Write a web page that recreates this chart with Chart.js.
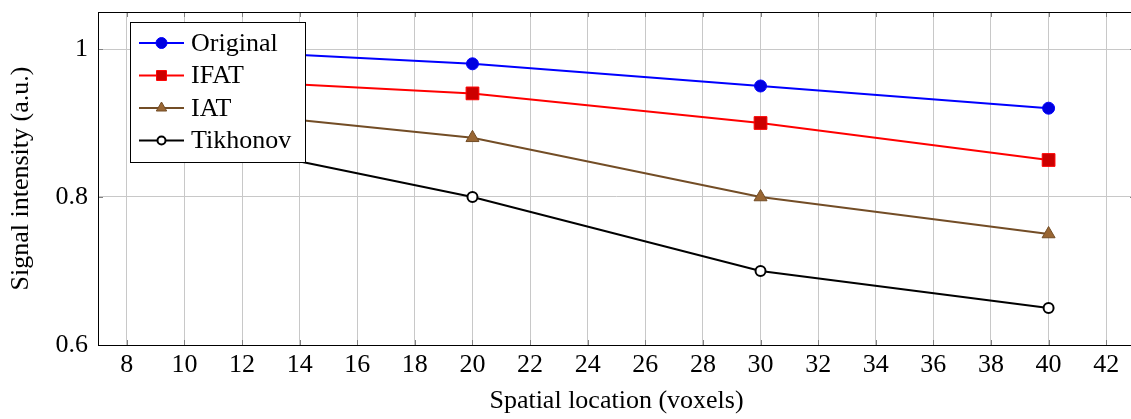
<!DOCTYPE html>
<html>
<head>
<meta charset="utf-8">
<script src="https://cdn.jsdelivr.net/npm/chart.js@4.4.1/dist/chart.umd.min.js"></script>
<style>
  html, body { margin: 0; padding: 0; background: #fff; overflow: hidden; }
  canvas { display: block; }
</style>
</head>
<body>
<canvas id="chart" width="1145" height="419"></canvas>
<script>
// Data
const xValues = [10, 20, 30, 40];
const original = [1.0, 0.98, 0.95, 0.92];
const ifat = [0.96, 0.94, 0.9, 0.85];
const iat = [0.92, 0.88, 0.8, 0.75];
const tikhonov = [0.88, 0.8, 0.7, 0.65];

const xTicks = [8, 10, 12, 14, 16, 18, 20, 22, 24, 26, 28, 30, 32, 34, 36, 38, 40, 42];
const yTicks = [0.6, 0.8, 1];
const yTickLabels = ["0.6", "0.8", "1"];

const FONT = "'Liberation Serif', 'Times New Roman', serif";
const FONT_SIZE = 26;

function toPoints(ys) {
  return xValues.map((x, i) => ({ x, y: ys[i] }));
}

function makeDataset(label, ys, line, fill, pointStyle, radius) {
  return {
    label,
    data: toPoints(ys),
    borderColor: line,
    backgroundColor: fill,
    borderWidth: 2,
    pointStyle,
    pointRadius: radius,
    pointHoverRadius: radius,
    pointBorderColor: line,
    pointBackgroundColor: fill,
    pointBorderWidth: pointStyle === "circle" && fill === "#ffffff" ? 2 : 1,
    tension: 0,
  };
}

// Legend drawn inside the plot, with a framed box
const boxLegend = {
  id: "boxLegend",
  afterDatasetsDraw(chart) {
    const { ctx } = chart;
    const left = 130.5, top = 22.5, w = 175, h = 140;
    ctx.save();
    ctx.fillStyle = "#fff";
    ctx.fillRect(left, top, w, h);
    ctx.strokeStyle = "#000";
    ctx.lineWidth = 1;
    ctx.strokeRect(left, top, w, h);
    const sizes = [5.5, 7, 6, 4];
    chart.data.datasets.forEach((ds, i) => {
      const y = top + 20.5 + i * 32.5;
      ctx.strokeStyle = ds.borderColor;
      ctx.lineWidth = 2;
      ctx.beginPath();
      ctx.moveTo(139, y);
      ctx.lineTo(184, y);
      ctx.stroke();
      ctx.fillStyle = ds.pointBackgroundColor;
      ctx.strokeStyle = ds.pointBorderColor;
      ctx.lineWidth = ds.pointBorderWidth;
      Chart.helpers.drawPoint(ctx, {
        pointStyle: ds.pointStyle,
        radius: sizes[i],
        rotation: 0,
        borderWidth: ds.pointBorderWidth,
      }, 161.5, y);
      ctx.fillStyle = "#000";
      ctx.font = FONT_SIZE + "px " + FONT;
      ctx.textBaseline = "middle";
      ctx.textAlign = "left";
      ctx.fillText(ds.label, 191, y + 1);
    });
    ctx.restore();
  },
};

// Frame and inner tick marks
const frame = {
  id: "frame",
  afterDraw(chart) {
    const { ctx, chartArea: a, scales } = chart;
    ctx.save();
    ctx.strokeStyle = "#808080";
    ctx.lineWidth = 1;
    ctx.beginPath();
    xTicks.forEach((v) => {
      const px = Math.round(scales.x.getPixelForValue(v)) + 0.5;
      ctx.moveTo(px, a.bottom);
      ctx.lineTo(px, a.bottom - 5);
      ctx.moveTo(px, a.top);
      ctx.lineTo(px, a.top + 5);
    });
    yTicks.forEach((v) => {
      const py = Math.round(scales.y.getPixelForValue(v)) + 0.5;
      ctx.moveTo(a.left, py);
      ctx.lineTo(a.left + 5, py);
      ctx.moveTo(a.right, py);
      ctx.lineTo(a.right - 5, py);
    });
    ctx.stroke();
    ctx.strokeStyle = "#000";
    ctx.strokeRect(a.left + 0.5, a.top + 0.5, a.right - a.left, a.bottom - a.top);
    ctx.restore();
  },
};

new Chart(document.getElementById("chart"), {
  type: "line",
  data: {
    datasets: [
      makeDataset("Original", original, "#0000ff", "#0000e0", "circle", 6),
      makeDataset("IFAT", ifat, "#ff0000", "#cc0000", "rect", 9),
      makeDataset("IAT", iat, "#734d26", "#996633", "triangle", 7.5),
      makeDataset("Tikhonov", tikhonov, "#000000", "#ffffff", "circle", 5),
    ],
  },
  options: {
    responsive: false,
    animation: false,
    events: [],
    layout: { padding: { top: 12, right: 2, left: 0, bottom: 0 } },
    plugins: {
      legend: { display: false },
      tooltip: { enabled: false },
    },
    scales: {
      x: {
        type: "linear",
        min: 7,
        max: 43,
        afterBuildTicks: (s) => { s.ticks = xTicks.map((v) => ({ value: v })); },
        afterFit: (s) => {
          s.height = 74;
          s.paddingLeft = 0;
          s.paddingRight = 0;
        },
        grid: { color: "#c8c8c8", lineWidth: 1, drawTicks: false },
        border: { display: false },
        ticks: {
          color: "#000",
          padding: 5,
          maxRotation: 0,
          autoSkip: false,
          font: { family: FONT, size: FONT_SIZE },
          callback: (v) => String(v),
        },
        title: {
          display: true,
          text: "Spatial location (voxels)",
          color: "#000",
          padding: { top: 0, bottom: 2 },
          font: { family: FONT, size: FONT_SIZE },
        },
      },
      y: {
        type: "linear",
        min: 0.6,
        max: 1.05,
        afterBuildTicks: (s) => { s.ticks = yTicks.map((v) => ({ value: v })); },
        afterFit: (s) => {
          s.width = 98;
          s.paddingTop = 0;
          s.paddingBottom = 0;
        },
        grid: { color: "#c8c8c8", lineWidth: 1, drawTicks: false },
        border: { display: false },
        ticks: {
          color: "#000",
          padding: 10,
          autoSkip: false,
          font: { family: FONT, size: FONT_SIZE },
          callback: (v) => yTickLabels[yTicks.indexOf(v)] ?? "",
        },
        title: {
          display: true,
          text: "Signal intensity (a.u.)",
          color: "#000",
          padding: { top: 6, bottom: 0 },
          font: { family: FONT, size: FONT_SIZE },
        },
      },
    },
  },
  plugins: [boxLegend, frame],
});
</script>
</body>
</html>
